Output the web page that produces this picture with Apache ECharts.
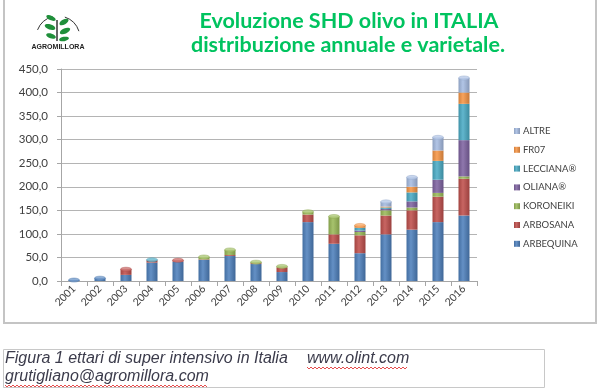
<!DOCTYPE html>
<html><head><meta charset="utf-8">
<script src="https://cdn.jsdelivr.net/npm/echarts@6/dist/echarts.min.js"></script>
<style>html,body{margin:0;padding:0;background:#fff}#c{width:602px;height:391px}</style>
</head><body><div id="c"></div>
<script>
const years = ['2001','2002','2003','2004','2005','2006','2007','2008','2009','2010','2011','2012','2013','2014','2015','2016'];
const arbequina = [2, 6, 13, 39, 41, 45, 53, 36, 19, 125, 79, 59, 99, 109, 125, 139];
const arbosana  = [0, 0, 12, 5, 3, 1, 2, 2, 10, 16, 20, 38, 40, 41, 54, 78];
const koroneiki = [0, 0, 0, 0, 0, 5, 11, 2, 2, 6, 38, 7, 11, 6, 8, 5];
const oliana    = [0, 0, 0, 0, 0, 0, 0, 0, 0, 0, 0, 3, 3, 13, 28, 77];
const lecciana  = [0, 0, 0, 1, 0, 0, 0, 0, 0, 0, 0, 6, 3, 19, 40, 77];
const fr07      = [0, 0, 0, 0, 0, 0, 0, 0, 0, 0, 0, 5, 2, 12, 22, 24];
const altre     = [0, 0, 0, 0, 0, 0, 0, 0, 0, 0, 0, 0, 10, 20, 28, 31];
const yTicks = [0, 50, 100, 150, 200, 250, 300, 350, 400, 450];

const seriesDefs = [
  {name:'ARBEQUINA', data:arbequina, color:'#4F81BD'},
  {name:'ARBOSANA', data:arbosana, color:'#C0504D'},
  {name:'KORONEIKI', data:koroneiki, color:'#9BBB59'},
  {name:'OLIANA®', data:oliana, color:'#8064A2'},
  {name:'LECCIANA®', data:lecciana, color:'#4BACC6'},
  {name:'FR07', data:fr07, color:'#F79646'},
  {name:'ALTRE', data:altre, color:'#A7BDE3'}
];
function shade(hex, f){
  const n = parseInt(hex.slice(1),16);
  let r=(n>>16)&255,g=(n>>8)&255,b=n&255;
  if(f>0){r=r+(255-r)*f;g=g+(255-g)*f;b=b+(255-b)*f;}
  else{r=r*(1+f);g=g*(1+f);b=b*(1+f);}
  return 'rgb('+Math.round(r)+','+Math.round(g)+','+Math.round(b)+')';
}
const chart = echarts.init(document.getElementById('c'), null, {renderer:'canvas'});
const font = 'Lato, "Open Sans", sans-serif';
const series = seriesDefs.map(s => ({
  name: s.name, type:'bar', stack:'t', barWidth: 11, data: s.data,
  itemStyle:{ color: {type:'linear', x:0,y:0,x2:1,y2:0, colorStops:[
    {offset:0, color: shade(s.color,-0.15)},
    {offset:0.4, color: shade(s.color,0.12)},
    {offset:1, color: shade(s.color,-0.2)}]} },
  emphasis:{disabled:true}
}));
// cylinder caps at top of each stack
const capData = years.map((y,i) => {
  let total = 0, top = seriesDefs[0].color;
  seriesDefs.forEach(s => { if (s.data[i] > 0) { total += s.data[i]; top = s.color; } });
  return {value:[i, total], itemStyle:{color: shade(top, 0.2), borderColor: shade(top,-0.1), borderWidth:0.5}};
});
series.push({type:'scatter', data:capData, symbol:'circle', symbolSize:[11,4], z:5, silent:true, emphasis:{disabled:true}});

function zig(x0, x1, y){
  const pts=[]; let up=true;
  for(let x=x0;x<=x1;x+=2){pts.push([x, up? y: y+2]); up=!up;}
  return pts;
}
const leafColor = '#1f8f3a';
chart.setOption({
  animation:false,
  textStyle:{fontFamily:font},
  grid:{left:61, right:125, top:69, bottom:110},
  legend:{
    orient:'vertical', left:509, top:121, itemWidth:6, itemHeight:6, itemGap:8.8,
    data: seriesDefs.map(s=>s.name).reverse(),
    icon:'rect',
    textStyle:{fontSize:9.5, color:'#404040', fontFamily:font, padding:[0,0,0,-2], lineHeight:10},
    selectedMode:false
  },
  xAxis:{
    type:'category', data:years,
    axisLine:{lineStyle:{color:'#a6a6a6', width:1}},
    axisTick:{show:true, length:5, lineStyle:{color:'#a6a6a6'}},
    axisLabel:{rotate:45, fontSize:10.5, color:'#404040', margin:6, interval:0}
  },
  yAxis:{
    type:'value', min:0, max:450, interval:50,
    axisLine:{show:true, lineStyle:{color:'#a6a6a6'}},
    axisTick:{show:true, length:4, lineStyle:{color:'#a6a6a6'}},
    splitLine:{lineStyle:{color:'#b4b4b4', width:1.2}},
    axisLabel:{fontSize:11.5, color:'#404040', margin:13,
      formatter: v => yTicks.includes(v) ? v.toFixed(1).replace('.',',') : ''}
  },
  series: series,
  graphic:[
    {type:'rect', shape:{x:4,y:-2,width:592,height:325}, style:{fill:'none', stroke:'#c4c4c4', lineWidth:2}, silent:true, z:-1},
    {type:'text', style:{text:'Evoluzione SHD olivo in ITALIA', x:349, y:21, align:'center', verticalAlign:'middle', fill:'#00C35F', font:'bold 21.5px Lato, "Open Sans", sans-serif'}},
    {type:'text', style:{text:'distribuzione annuale e varietale.', x:348, y:45, align:'center', verticalAlign:'middle', fill:'#00C35F', font:'bold 21.5px Lato, "Open Sans", sans-serif'}},
    // logo
    {type:'text', style:{text:'AGROMILLORA', x:58, y:47, align:'center', verticalAlign:'middle', fill:'#222', font:'bold 7px "Liberation Sans", sans-serif'}},
    {type:'arc', shape:{cx:58, cy:38, r:22, startAngle:Math.PI*1.12, endAngle:Math.PI*1.42}, style:{stroke:'#333', fill:'none', lineWidth:1}},
    {type:'arc', shape:{cx:58, cy:38, r:22, startAngle:Math.PI*1.6, endAngle:Math.PI*1.9}, style:{stroke:'#333', fill:'none', lineWidth:1}},
    {type:'line', shape:{x1:57, y1:41, x2:57, y2:20}, style:{stroke:'#333', lineWidth:1.5}},
    {type:'ellipse', shape:{cx:51, cy:18, rx:5, ry:2.3}, rotation:-0.4, originX:51, originY:18, style:{fill:leafColor}},
    {type:'ellipse', shape:{cx:64, cy:22, rx:5, ry:2.5}, rotation:0.5, originX:64, originY:22, style:{fill:leafColor}},
    {type:'ellipse', shape:{cx:50, cy:27, rx:5.5, ry:2.6}, rotation:-0.3, originX:50, originY:27, style:{fill:leafColor}},
    {type:'ellipse', shape:{cx:65, cy:31, rx:5.5, ry:2.6}, rotation:0.4, originX:65, originY:31, style:{fill:leafColor}},
    {type:'ellipse', shape:{cx:51, cy:36, rx:5, ry:2.4}, rotation:-0.3, originX:51, originY:36, style:{fill:leafColor}},
    {type:'ellipse', shape:{cx:64, cy:39, rx:5, ry:2.2}, rotation:0.2, originX:64, originY:39, style:{fill:leafColor}},
    // caption
    {type:'rect', shape:{x:3.5,y:349.5,width:541,height:38}, style:{fill:'none', stroke:'#c8c8c8', lineWidth:1}},
    {type:'text', style:{text:'Figura 1 ettari di super intensivo in Italia', x:5, y:359, verticalAlign:'middle', fill:'#3b3b4b', font:'italic 16px "Liberation Sans", sans-serif'}},
    {type:'text', style:{text:'www.olint.com', x:307, y:359, verticalAlign:'middle', fill:'#3b3b4b', font:'italic 16px "Liberation Sans", sans-serif'}},
    {type:'text', style:{text:'grutigliano@agromillora.com', x:5, y:377, verticalAlign:'middle', fill:'#3b3b4b', font:'italic 16px "Liberation Sans", sans-serif'}},
    {type:'polyline', shape:{points:zig(307,408,367)}, style:{stroke:'#e02020', lineWidth:0.8, fill:'none'}},
    {type:'polyline', shape:{points:zig(5,207,385)}, style:{stroke:'#e02020', lineWidth:0.8, fill:'none'}}
  ]
});
</script></body></html>
